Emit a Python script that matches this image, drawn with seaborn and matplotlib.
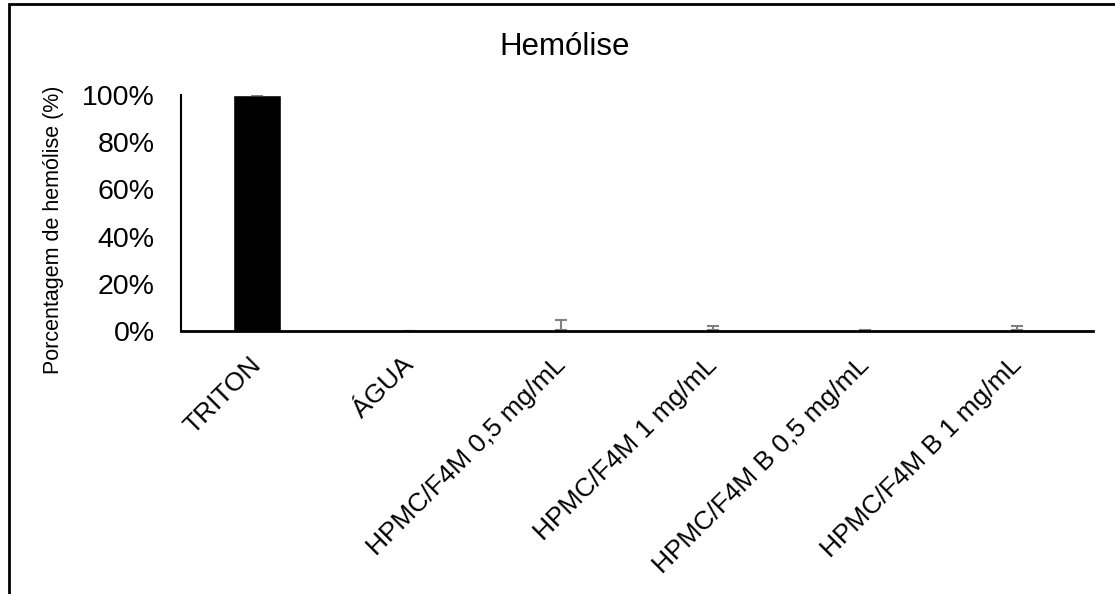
import numpy as np
import pandas as pd
import seaborn as sns
import matplotlib.pyplot as plt
from matplotlib.patches import Rectangle
from matplotlib.ticker import PercentFormatter
from matplotlib.transforms import ScaledTranslation

sns.set_style("white")
plt.rcParams['font.family'] = ['Liberation Sans', 'DejaVu Sans']
plt.rcParams['text.color'] = 'black'
plt.rcParams['axes.labelcolor'] = 'black'
plt.rcParams['xtick.color'] = 'black'
plt.rcParams['ytick.color'] = 'black'

categories = ["TRITON", "ÁGUA", "HPMC/F4M 0,5 mg/mL", "HPMC/F4M 1 mg/mL",
              "HPMC/F4M B 0,5 mg/mL", "HPMC/F4M B 1 mg/mL"]
hemolise = [100.0, 0.1, 0.5, 0.3, 0.1, 0.3]
erro = [0.2, 0.1, 4.3, 1.8, 0.2, 1.8]

dat = pd.DataFrame({"grupo": categories, "hemolise": hemolise})

fig = plt.figure(figsize=(11.15, 5.94), dpi=100)
ax = fig.add_axes([0.1623, 0.4428, 0.818, 0.3973])

sns.barplot(data=dat, x="grupo", y="hemolise", color="black", width=0.32,
            saturation=1, errorbar=None, ax=ax)
pos = np.arange(len(categories))
ax.errorbar(pos, hemolise, yerr=[np.zeros(len(erro)), erro], fmt="none",
            ecolor="#808080", elinewidth=1.5, capsize=4.3, capthick=1.5)

ax.set_ylim(0, 100)
ax.set_xlim(-0.5, len(categories) - 0.5)
ax.set_yticks([0, 20, 40, 60, 80, 100])
ax.yaxis.set_major_formatter(PercentFormatter(decimals=0))
ax.tick_params(axis="y", labelsize=20.5, length=0, pad=19)
ax.tick_params(axis="x", labelsize=19, length=0, pad=10)
shift = ScaledTranslation(-0.08, -0.08, fig.dpi_scale_trans)
for lab in ax.get_xticklabels():
    lab.set_rotation(45)
    lab.set_ha("right")
    lab.set_va("top")
    lab.set_rotation_mode("anchor")
    lab.set_transform(lab.get_transform() + shift)
ax.set_xlabel("")
ax.set_ylabel("Porcentagem de hemólise (%)", fontsize=15.5)
ax.yaxis.set_label_coords(-0.128, 0.428)
ax.set_title("Hemólise", fontsize=22.5, x=0.421, y=1.169, pad=0)

sns.despine(ax=ax)
ax.spines["left"].set_linewidth(1.5)
ax.spines["left"].set_color("black")
ax.spines["bottom"].set_linewidth(2)
ax.spines["bottom"].set_color("black")

# chart frame (cropped on right and bottom)
fig.patches.append(Rectangle((9 / 1115, -0.1), 1.2, 1 - 4 / 594 + 0.1,
                             transform=fig.transFigure, fill=False,
                             edgecolor="black", linewidth=2))

plt.savefig("out.png", dpi=100)
plt.close()
